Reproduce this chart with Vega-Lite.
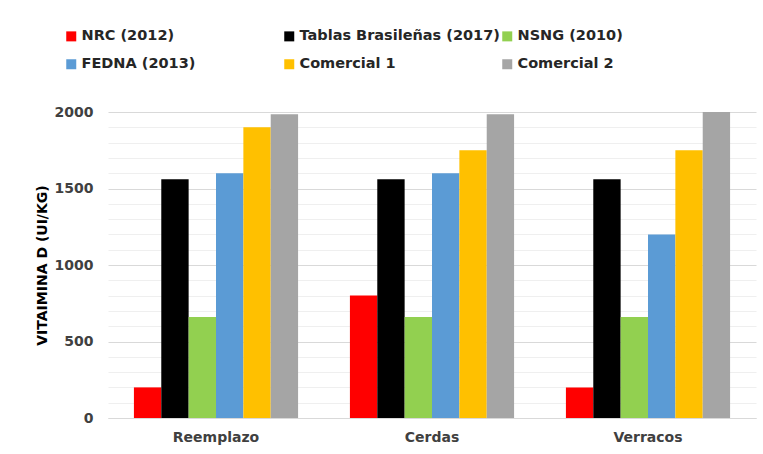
{
  "$schema": "https://vega.github.io/schema/vega-lite/v6.json",
  "width": 648,
  "height": 306,
  "autosize": {"type": "none"},
  "padding": {"left": 108, "top": 112, "right": 7, "bottom": 36},
  "background": "white",
  "config": {"view": {"stroke": null}, "font": "DejaVu Sans"},
  "data": {
    "values": [
      {"grupo": "Reemplazo", "fuente": "NRC (2012)", "valor": 200},
      {"grupo": "Reemplazo", "fuente": "Tablas Brasileñas (2017)", "valor": 1560},
      {"grupo": "Reemplazo", "fuente": "NSNG (2010)", "valor": 660},
      {"grupo": "Reemplazo", "fuente": "FEDNA (2013)", "valor": 1600},
      {"grupo": "Reemplazo", "fuente": "Comercial 1", "valor": 1900},
      {"grupo": "Reemplazo", "fuente": "Comercial 2", "valor": 1985},
      {"grupo": "Cerdas", "fuente": "NRC (2012)", "valor": 800},
      {"grupo": "Cerdas", "fuente": "Tablas Brasileñas (2017)", "valor": 1560},
      {"grupo": "Cerdas", "fuente": "NSNG (2010)", "valor": 660},
      {"grupo": "Cerdas", "fuente": "FEDNA (2013)", "valor": 1600},
      {"grupo": "Cerdas", "fuente": "Comercial 1", "valor": 1750},
      {"grupo": "Cerdas", "fuente": "Comercial 2", "valor": 1985},
      {"grupo": "Verracos", "fuente": "NRC (2012)", "valor": 200},
      {"grupo": "Verracos", "fuente": "Tablas Brasileñas (2017)", "valor": 1560},
      {"grupo": "Verracos", "fuente": "NSNG (2010)", "valor": 660},
      {"grupo": "Verracos", "fuente": "FEDNA (2013)", "valor": 1200},
      {"grupo": "Verracos", "fuente": "Comercial 1", "valor": 1750},
      {"grupo": "Verracos", "fuente": "Comercial 2", "valor": 2000}
    ]
  },
  "mark": {"type": "bar"},
  "encoding": {
    "x": {
      "field": "grupo",
      "type": "nominal",
      "sort": ["Reemplazo", "Cerdas", "Verracos"],
      "scale": {"paddingInner": 0.24, "paddingOuter": 0.12},
      "axis": {
        "title": null,
        "labelAngle": 0,
        "labelFont": "DejaVu Sans",
        "labelFontWeight": "bold",
        "labelFontSize": 14,
        "labelColor": "#404040",
        "labelPadding": 12,
        "ticks": false,
        "domainColor": "#d9d9d9",
        "domainWidth": 1
      }
    },
    "xOffset": {
      "field": "fuente",
      "type": "nominal",
      "sort": ["NRC (2012)", "Tablas Brasileñas (2017)", "NSNG (2010)", "FEDNA (2013)", "Comercial 1", "Comercial 2"],
      "scale": {"paddingInner": 0, "paddingOuter": 0}
    },
    "y": {
      "field": "valor",
      "type": "quantitative",
      "scale": {"domain": [0, 2000], "nice": false},
      "axis": {
        "title": "VITAIMINA D (UI/KG)",
        "titleFont": "DejaVu Sans",
        "titleFontWeight": "bold",
        "titleFontSize": 14,
        "titleColor": "#000000",
        "titlePadding": 5,
        "values": [0, 100, 200, 300, 400, 500, 600, 700, 800, 900, 1000, 1100, 1200, 1300, 1400, 1500, 1600, 1700, 1800, 1900, 2000],
        "labelExpr": "datum.value % 500 === 0 ? datum.label : ''",
        "labelOverlap": false,
        "format": "d",
        "labelFont": "DejaVu Sans",
        "labelFontWeight": "bold",
        "labelFontSize": 14,
        "labelColor": "#404040",
        "labelPadding": 15,
        "ticks": false,
        "domain": false,
        "grid": true,
        "gridColor": {"condition": {"test": "datum.value % 500 === 0", "value": "#d9d9d9"}, "value": "#efefef"},
        "gridWidth": 1
      }
    },
    "color": {
      "field": "fuente",
      "type": "nominal",
      "scale": {
        "domain": ["NRC (2012)", "Tablas Brasileñas (2017)", "NSNG (2010)", "FEDNA (2013)", "Comercial 1", "Comercial 2"],
        "range": ["#ff0000", "#000000", "#92d050", "#5b9bd5", "#ffc000", "#a5a5a5"]
      },
      "legend": {
        "title": null,
        "orient": "none",
        "legendX": -44,
        "legendY": -83,
        "direction": "horizontal",
        "columns": 3,
        "gridAlign": "all",
        "columnPadding": 0,
        "rowPadding": 13,
        "padding": 0,
        "symbolType": "square",
        "symbolSize": 100,
        "symbolStrokeWidth": 0,
        "labelOffset": 3,
        "labelFont": "DejaVu Sans",
        "labelFontWeight": "bold",
        "labelFontSize": 14.5,
        "labelColor": "#262626",
        "labelLimit": 300
      }
    }
  }
}
